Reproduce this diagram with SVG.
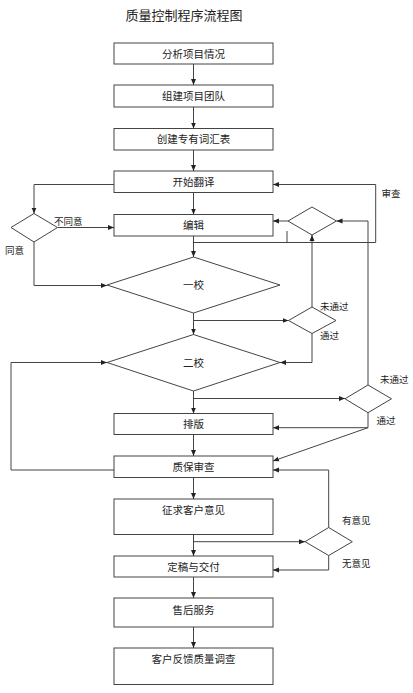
<svg xmlns="http://www.w3.org/2000/svg" width="413" height="693" viewBox="0 0 413 693">
<style>
.box{fill:#fff;stroke:#444;stroke-width:1}
.t{font-family:"Liberation Sans","Noto Sans CJK SC",sans-serif;font-size:10.5px;fill:#222;text-anchor:middle;dominant-baseline:central}
.l{font-family:"Liberation Sans","Noto Sans CJK SC",sans-serif;font-size:9.5px;fill:#222;dominant-baseline:central}
.c{fill:none;stroke:#444;stroke-width:1}
</style>
<defs>
<marker id="a" markerWidth="6" markerHeight="6" refX="6" refY="3" orient="auto" markerUnits="userSpaceOnUse">
<path d="M0,0.5 L6,3 L0,5.5 z" fill="#222"/>
</marker>
</defs>
<rect width="413" height="693" fill="#fff"/>
<text x="184" y="15" class="t" style="font-size:13px">质量控制程序流程图</text>

<g id="n1"><rect class="box" x="114" y="43" width="159" height="21"/><text class="t" x="193.5" y="53.5">分析项目情况</text></g>
<g id="n2"><rect class="box" x="114" y="85" width="159" height="22"/><text class="t" x="193.5" y="96">组建项目团队</text></g>
<g id="n3"><rect class="box" x="114" y="128.5" width="159" height="21.5"/><text class="t" x="193.5" y="139">创建专有词汇表</text></g>
<g id="n4"><rect class="box" x="114" y="171" width="159" height="21.5"/><text class="t" x="193.5" y="181.5">开始翻译</text></g>
<g id="n5"><rect class="box" x="114" y="214.5" width="159" height="21.5"/><text class="t" x="193.5" y="225">编辑</text></g>
<g id="d0"><polygon class="box" points="34,213.5 57.5,227.5 34,242 11,227.5"/></g>
<g id="d1"><polygon class="box" points="193.5,257 280,285 193.5,313 107,285"/><text class="t" x="193.5" y="285">一校</text></g>
<g id="dr1"><polygon class="box" points="312,207 336.5,221 312,235 288,221"/></g>
<g id="dr2"><polygon class="box" points="312,307 336,320.5 312,333.5 288.5,320.5"/></g>
<g id="d2"><polygon class="box" points="193.5,334.5 280,362.5 193.5,391 107,362.5"/><text class="t" x="193.5" y="362.5">二校</text></g>
<g id="dr3"><polygon class="box" points="368,385 391.5,398.8 368,412.7 345,398.8"/></g>
<g id="n6"><rect class="box" x="114" y="413.5" width="159" height="21"/><text class="t" x="193.5" y="424">排版</text></g>
<g id="n7"><rect class="box" x="114" y="456" width="159" height="21.5"/><text class="t" x="193.5" y="466.5">质保审查</text></g>
<g id="n8"><rect class="box" x="114" y="499" width="159" height="35.5"/><text class="t" x="193.5" y="510">征求客户意见</text></g>
<g id="dr4"><polygon class="box" points="328.7,527.5 352.3,541.7 328.7,555.5 305,541.7"/></g>
<g id="n9"><rect class="box" x="114" y="556" width="159" height="21"/><text class="t" x="193.5" y="566.5">定稿与交付</text></g>
<g id="n10"><rect class="box" x="114" y="598" width="159" height="29"/><text class="t" x="193.5" y="610">售后服务</text></g>
<g id="n11"><rect class="box" x="114" y="648" width="159" height="36.5"/><text class="t" x="193.5" y="658.5">客户反馈质量调查</text></g>

<g id="connectors">
<path class="c" d="M193.5,64 V85" marker-end="url(#a)"/>
<path class="c" d="M193.5,107 V128.5" marker-end="url(#a)"/>
<path class="c" d="M193.5,150 V171" marker-end="url(#a)"/>
<path class="c" d="M193.5,192.5 V214.5" marker-end="url(#a)"/>
<path class="c" d="M114,184.5 H34 V213.5" marker-end="url(#a)"/>
<path class="c" d="M57.5,227.5 H114" marker-end="url(#a)"/>
<path class="c" d="M34,242 V285.5 H107" marker-end="url(#a)"/>
<path class="c" d="M193.5,236 V257" marker-end="url(#a)"/>
<path class="c" d="M193.5,242.5 H375.7 V184.5 H273" marker-end="url(#a)"/>
<path class="c" d="M287,231 V242.5"/>
<path class="c" d="M288,221 H273" marker-end="url(#a)"/>
<path class="c" d="M193.5,313 V334.5" marker-end="url(#a)"/>
<path class="c" d="M193.5,320.5 H288.5" marker-end="url(#a)"/>
<path class="c" d="M312,307 V235" marker-end="url(#a)"/>
<path class="c" d="M312,333.5 V362.5 H280" marker-end="url(#a)"/>
<path class="c" d="M114,470 H11 V362.5 H107" marker-end="url(#a)"/>
<path class="c" d="M368,385 V221 H336.5" marker-end="url(#a)"/>
<path class="c" d="M193.5,391 V413.5" marker-end="url(#a)"/>
<path class="c" d="M193.5,398.5 H345" marker-end="url(#a)"/>
<path class="c" d="M368,412.7 V427.7 H273" marker-end="url(#a)"/>
<path class="c" d="M368,427.7 L273,461" marker-end="url(#a)"/>
<path class="c" d="M193.5,434.5 V456" marker-end="url(#a)"/>
<path class="c" d="M193.5,477.5 V499" marker-end="url(#a)"/>
<path class="c" d="M193.5,534.5 V556" marker-end="url(#a)"/>
<path class="c" d="M193.5,541.7 H305" marker-end="url(#a)"/>
<path class="c" d="M328.7,527.5 V470 H273" marker-end="url(#a)"/>
<path class="c" d="M328.7,555.5 V570 H273" marker-end="url(#a)"/>
<path class="c" d="M193.5,577 V598" marker-end="url(#a)"/>
<path class="c" d="M193.5,627 V648" marker-end="url(#a)"/>
</g>

<g id="labels">
<text class="l" x="54" y="221.5">不同意</text>
<text class="l" x="5" y="250">同意</text>
<text class="l" x="381.5" y="193">审查</text>
<text class="l" x="320" y="306.5">未通过</text>
<text class="l" x="320" y="335">通过</text>
<text class="l" x="380" y="379">未通过</text>
<text class="l" x="376.5" y="420.5">通过</text>
<text class="l" x="342" y="520.5">有意见</text>
<text class="l" x="342" y="563.5">无意见</text>
</g>
</svg>
